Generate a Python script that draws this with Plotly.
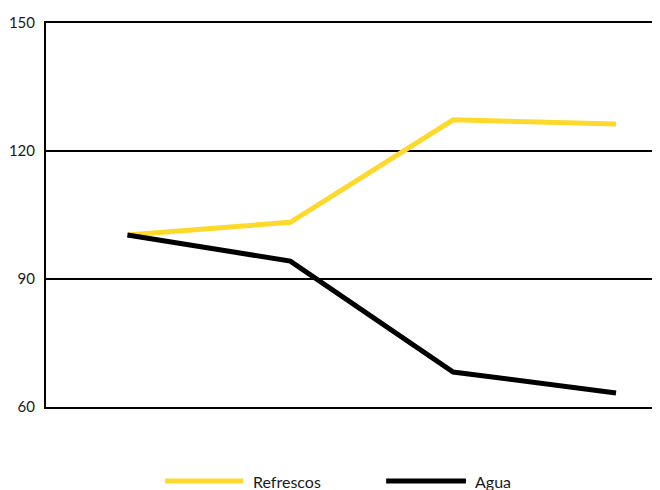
import plotly.graph_objects as go

categories = ["1", "2", "3", "4"]
refrescos = [100.3, 103.3, 127.3, 126.3]
agua = [100.3, 94.2, 68.2, 63.3]
y_ticks = [60, 90, 120, 150]
series_names = ["Refrescos", "Agua"]
colors = ["#FCD92B", "#000000"]

x_idx = list(range(len(categories)))

fig = go.Figure()
for name, vals, col in zip(series_names, [refrescos, agua], colors):
    fig.add_trace(go.Scatter(x=x_idx, y=vals, mode="lines", name=name,
                             line=dict(color=col, width=5), showlegend=False))

# manual legend (long line symbols)
leg_y = -0.193
leg_items = [(0.194, 0.321, 0.334), (0.554, 0.684, 0.695)]
for (x0, x1, tx), name, col in zip(leg_items, series_names, colors):
    fig.add_shape(type="line", xref="paper", yref="paper", x0=x0, x1=x1, y0=leg_y, y1=leg_y,
                  line=dict(color=col, width=5))
    fig.add_annotation(xref="paper", yref="paper", x=tx, y=leg_y, text=name, showarrow=False,
                       xanchor="left", yanchor="middle", font=dict(size=16, color="#1a1a1a"))

fig.update_layout(
    width=660, height=490,
    margin=dict(l=38, r=8, t=15, b=91, autoexpand=False),
    paper_bgcolor="white", plot_bgcolor="white",
    font=dict(family="Lato", size=16, color="#1a1a1a"),
    xaxis=dict(range=[-0.5, 3.27], showticklabels=False, showgrid=False, zeroline=False,
               showline=True, mirror=True, linecolor="black", linewidth=2, automargin=False),
    yaxis=dict(range=[60, 150], tickvals=y_ticks, showgrid=True, gridcolor="black", gridwidth=2,
               zeroline=False, showline=True, linecolor="black", linewidth=2, automargin=False,
               ticks="outside", ticklen=6, tickcolor="white", tickfont=dict(size=15)),
)

fig.write_html("out.html")
